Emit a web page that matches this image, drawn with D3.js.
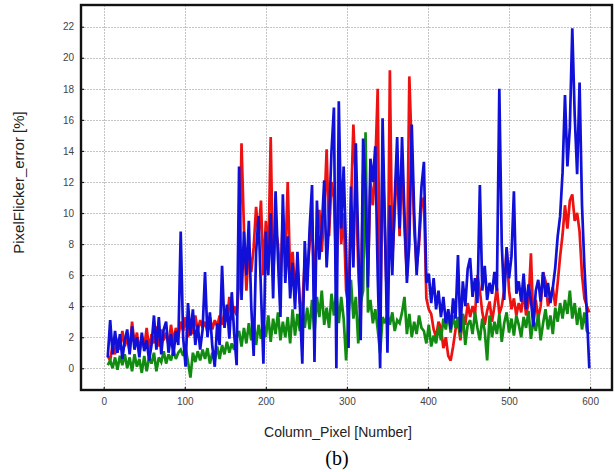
<!DOCTYPE html>
<html>
<head>
<meta charset="utf-8">
<script src="https://cdn.jsdelivr.net/npm/d3@7"></script>
<style>
  html, body { margin: 0; padding: 0; background: #fff; }
  svg { display: block; }
</style>
</head>
<body>
<svg id="chart" width="615" height="472"></svg>
<script>
// Column index of every sample (every 3rd pixel column, 5 … 599)
const columns = d3.range(5, 600, 3);

// Pixel flicker error [%] per column, one array per channel
const blueErr = [
  0.7, 3.1, 0.9, 2.4, 1.0, 2.2, 0.6, 1.8, 2.5, 0.9,
  2.7, 1.2, 2.0, 0.7, 2.3, 1.1, 1.8, 0.5, 1.5, 3.4,
  1.2, 3.3, 0.9, 2.5, 3.0, 1.0, 2.2, 0.8, 2.4, 1.5,
  8.8, 2.0, 0.1, 4.2, 2.1, 3.8, 1.5, 2.8, 1.2, 2.5,
  6.2, 2.0, 3.6, 1.4, 0.1, 2.9, 1.5, 6.6, 2.6, 4.1,
  1.9, 4.9, 2.2, 0.2, 13.0, 4.4, 8.8, 6.0, 9.5, 4.0,
  0.8, 7.5, 9.8, 5.0, 0.3, 8.8, 6.0, 10.0, 4.5, 11.4,
  7.0, 3.3, 11.2, 5.5, 8.5, 4.5, 6.8, 3.8, 7.5, 4.0,
  0.3, 8.2, 5.0, 9.0, 11.8, 0.4, 10.8, 7.0, 9.0, 12.1,
  6.5, 9.5, 14.0, 16.8, 0.0, 17.2, 9.0, 13.0, 7.5, 1.3,
  11.7, 6.5, 14.5, 8.0, 1.8, 14.8, 11.5, 5.2, 13.5, 12.0,
  14.3, 6.0, 0.0, 16.1, 9.0, 1.0, 10.5, 6.0, 11.0, 14.9,
  9.0, 14.9, 10.0, 5.5, 8.0, 15.7, 10.0, 6.0, 8.5, 11.7,
  13.3, 5.5, 6.1, 4.2, 5.8, 3.8, 5.0, 3.3, 4.6, 2.9,
  3.8, 2.5, 4.5, 3.2, 7.3, 2.3, 5.6, 4.0, 6.4, 7.1,
  4.6, 5.8, 4.2, 11.8, 5.0, 6.6, 4.4, 5.5, 4.8, 6.2,
  5.0, 18.0, 8.0, 4.4, 7.8, 5.8, 7.2, 11.4, 4.8, 5.6,
  4.3, 6.1, 3.8, 5.4, 4.4, 2.7, 5.0, 5.7, 4.3, 6.2,
  4.6, 5.5, 4.2, 5.2, 6.5, 8.5, 9.8, 12.6, 17.6, 13.0,
  15.5, 21.9, 16.3, 12.5, 18.4, 10.5, 6.5, 3.5, 0.0
];
const redErr = [
  0.8, 0.5, 1.5, 0.9, 1.9, 1.2, 2.4, 1.4, 2.0, 1.1,
  3.0, 1.5, 2.3, 1.0, 2.1, 1.3, 2.6, 1.2, 2.2, 1.6,
  2.7, 1.4, 2.5, 1.8, 2.3, 1.5, 2.8, 1.7, 2.6, 2.0,
  3.0, 2.4, 3.3, 2.0, 2.8, 2.2, 3.4, 2.4, 3.1, 2.6,
  3.0, 2.3, 3.3, 2.5, 3.1, 2.7, 3.4, 2.8, 3.6, 3.0,
  4.6, 3.1, 4.0, 3.4, 5.5, 14.5, 9.0, 5.0, 7.8, 6.2,
  7.8, 10.4, 8.5, 10.8, 6.0, 9.5, 7.0, 14.9, 6.0, 9.0,
  8.0, 5.5, 9.9, 7.0, 12.0, 6.0, 7.5, 5.0, 6.5, 4.2,
  3.9, 7.0, 6.0, 8.0, 9.5, 5.0, 9.0, 10.2, 7.5, 10.0,
  14.1, 8.5, 12.0, 11.0, 6.0, 12.0, 8.0, 10.0, 5.0, 4.0,
  10.5, 15.7, 12.0, 6.5, 3.0, 12.5, 10.0, 6.0, 12.0, 10.5,
  13.0, 18.0, 2.0, 14.0, 8.5, 3.0, 19.2, 7.0, 10.0, 13.5,
  8.5, 13.5, 9.0, 6.0, 18.8, 14.0, 9.0, 6.5, 8.0, 10.5,
  11.0, 4.5, 3.8, 3.5, 2.5, 2.0, 3.0, 2.6, 1.3, 2.0,
  0.8, 0.5, 1.4, 2.5, 3.0, 1.8, 3.5, 2.8, 4.2, 3.3,
  4.0, 3.4, 6.0, 5.0, 3.6, 2.8, 3.7, 4.3, 3.0, 4.0,
  5.2, 3.5, 4.0, 5.0, 7.7, 5.0, 3.8, 4.5, 3.4, 4.2,
  3.6, 5.0, 3.4, 4.2, 7.4, 3.0, 4.4, 3.2, 4.0, 6.2,
  5.6, 4.0, 4.6, 5.2, 4.0, 5.5, 7.2, 8.6, 10.5, 9.0,
  10.8, 11.2, 9.5, 10.0, 8.8, 6.0, 4.5, 4.0, 3.6
];
const greenErr = [
  0.2, 0.5, 0.0, 0.7, -0.1, 0.8, 0.2, 0.9, 0.0, 0.7,
  -0.2, 0.9, 0.1, 0.6, -0.3, 0.8, -0.2, 0.7, 0.3, 1.0,
  -0.2, 0.7, 0.4, 1.1, 0.3, 0.9, 0.5, 1.2, 0.6, 1.0,
  1.2, 0.8, 1.3, 0.4, -0.6, 1.0, 0.4, 1.1, 0.5, 1.2,
  0.6, 1.3, 0.3, 1.0, 0.5, 1.4, 0.6, 1.5, 0.9, 1.7,
  1.0, 1.6, 1.2, 2.0, 2.4, 1.4, 2.6, 1.6, 2.9, 1.8,
  3.1, 1.5, 2.8, 1.9, 3.0, 2.0, 3.4, 1.7, 3.2, 2.2,
  3.6, 1.8, 3.0, 2.0, 3.3, 1.6, 3.8, 2.1, 3.5, 2.4,
  4.0, 2.6, 3.9, 2.5, 4.4, 2.3, 4.6, 3.3, 5.0, 2.8,
  3.9, 2.6, 4.8, 3.4, 5.0, 2.9, 4.6, 3.2, 0.5, 3.5,
  5.7, 3.2, 4.6, 1.6, 4.2, 5.0, 15.2, 3.6, 4.4, 2.9,
  3.8, 2.5, 1.0, 3.3, 2.9, 3.5, 2.8, 3.6, 2.4, 3.1,
  2.9, 3.6, 4.6, 2.2, 3.5, 2.0, 3.0, 2.2, 3.4, 2.6,
  2.4, 1.6, 2.8, 1.4, 2.1, 1.6, 2.7, 1.8, 3.2, 2.5,
  3.6, 2.3, 3.4, 2.6, 3.3, 2.0, 3.5, 1.5, 2.8, 3.1,
  2.2, 3.6, 2.6, 1.8, 3.2, 2.4, 0.5, 3.4, 2.0, 3.0,
  2.2, 3.5, 1.7, 2.9, 3.6, 2.3, 3.2, 2.1, 3.4, 2.8,
  2.0, 3.3, 2.6, 3.7, 1.9, 3.1, 2.4, 3.5, 1.8, 2.9,
  3.8, 2.5, 3.4, 2.2, 3.9, 3.0, 4.2, 3.2, 4.4, 3.5,
  5.0, 3.2, 4.2, 2.8, 3.9, 2.5, 3.6, 2.4, 2.2
];

const xTicks = [0, 100, 200, 300, 400, 500, 600];
const yTicks = [0, 2, 4, 6, 8, 10, 12, 14, 16, 18, 20, 22];

const series = [
  { name: "red",   values: redErr,   color: "#ee1111" },
  { name: "green", values: greenErr, color: "#118c11" },
  { name: "blue",  values: blueErr,  color: "#1010d8" }
];

const svg = d3.select("#chart");
const plot = { left: 81, right: 612, top: 5, bottom: 390 };

const x = d3.scaleLinear().domain([-28, 627]).range([plot.left, plot.right]);
const y = d3.scaleLinear().domain([-1.4, 23.4]).range([plot.bottom, plot.top]);

// dotted grid
const grid = svg.append("g").attr("stroke", "#c4c4c4").attr("stroke-width", 1)
  .attr("stroke-dasharray", "2,1");
grid.selectAll(".gy").data(yTicks).join("line")
  .attr("x1", plot.left).attr("x2", plot.right)
  .attr("y1", d => Math.round(y(d)) + 0.5).attr("y2", d => Math.round(y(d)) + 0.5);
grid.selectAll(".gx").data(xTicks).join("line")
  .attr("y1", plot.top).attr("y2", plot.bottom)
  .attr("x1", d => Math.round(x(d)) + 0.5).attr("x2", d => Math.round(x(d)) + 0.5);

// data lines
svg.append("clipPath").attr("id", "plotClip")
  .append("rect").attr("x", plot.left).attr("y", plot.top)
  .attr("width", plot.right - plot.left).attr("height", plot.bottom - plot.top);

const line = d3.line().x((d, i) => x(columns[i])).y(d => y(d));
svg.append("g").attr("clip-path", "url(#plotClip)")
  .selectAll("path").data(series).join("path")
  .attr("fill", "none")
  .attr("stroke", d => d.color)
  .attr("stroke-width", 2.7)
  .attr("stroke-linejoin", "miter")
  .attr("stroke-miterlimit", 3)
  .attr("d", d => line(d.values));

// axes (inward ticks, labels outside the frame)
const yAxis = d3.axisLeft(y).tickValues(yTicks).tickSize(-3).tickPadding(7);
const xAxis = d3.axisBottom(x).tickValues(xTicks).tickSize(-3).tickPadding(8);

const gy = svg.append("g").attr("transform", `translate(${plot.left},0)`).call(yAxis);
const gx = svg.append("g").attr("transform", `translate(0,${plot.bottom})`).call(xAxis);
[gy, gx].forEach(g => {
  g.select(".domain").remove();
  g.selectAll(".tick line").attr("stroke", "#222").attr("stroke-width", 1.2);
  g.selectAll(".tick text")
    .attr("font-family", "Liberation Sans, Arial, sans-serif")
    .attr("font-size", 10)
    .attr("fill", "#444");
});

// frame
svg.append("rect")
  .attr("x", plot.left).attr("y", plot.top)
  .attr("width", plot.right - plot.left).attr("height", plot.bottom - plot.top)
  .attr("fill", "none").attr("stroke", "#111").attr("stroke-width", 2.4);

// axis titles
svg.append("text")
  .attr("transform", `translate(24,${(plot.top + plot.bottom) / 2 - 15}) rotate(-90)`)
  .attr("text-anchor", "middle")
  .attr("font-family", "Liberation Sans, Arial, sans-serif")
  .attr("font-size", 15)
  .attr("fill", "#222")
  .text("PixelFlicker_error [%]");

svg.append("text")
  .attr("x", 338).attr("y", 437)
  .attr("text-anchor", "middle")
  .attr("font-family", "Liberation Sans, Arial, sans-serif")
  .attr("font-size", 14)
  .attr("fill", "#222")
  .text("Column_Pixel [Number]");

svg.append("text")
  .attr("x", 337).attr("y", 465)
  .attr("text-anchor", "middle")
  .attr("font-family", "Liberation Serif, Times New Roman, serif")
  .attr("font-size", 20)
  .attr("fill", "#000")
  .text("(b)");
</script>
</body>
</html>
